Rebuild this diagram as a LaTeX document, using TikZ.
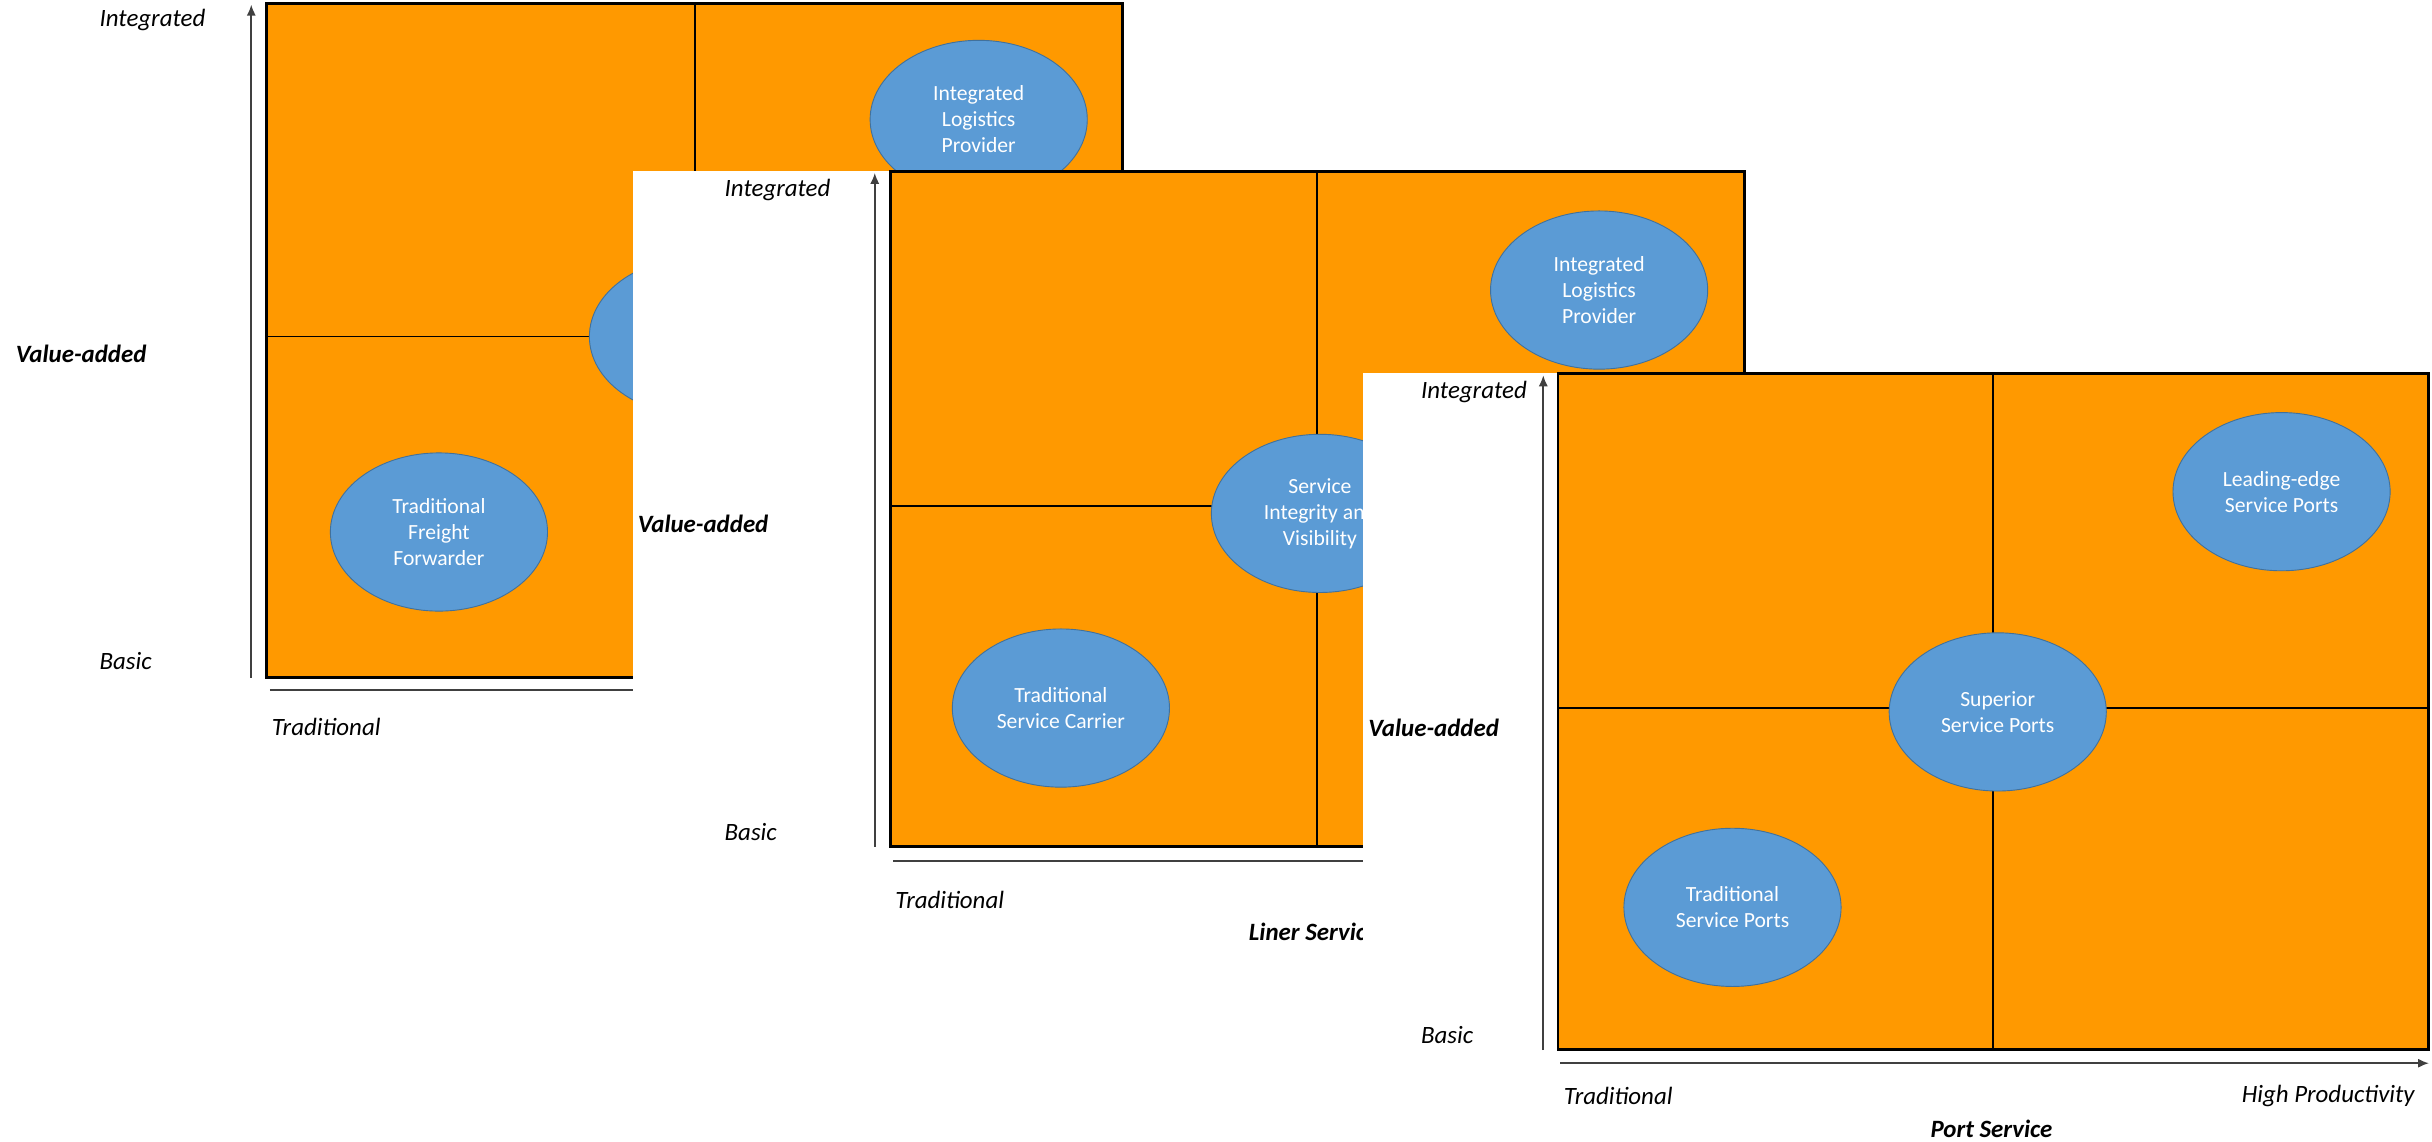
\documentclass[tikz,border=0pt]{standalone}
\usepackage{fontspec}
\setmainfont{Carlito}
\usetikzlibrary{shapes.geometric,arrows.meta}
\definecolor{quadorange}{HTML}{FF9900}
\definecolor{bubbleblue}{HTML}{5B9BD5}
\definecolor{bubbleedge}{HTML}{41719C}
\tikzset{
  quad/.style={fill=quadorange, draw=black, line width=1.6pt},
  divider/.style={draw=black, line width=1pt},
  axis/.style={draw=black!75, line width=0.9pt},
  tip/.style={-{Latex[length=6pt,width=5pt]}},
  bubble/.style={ellipse, fill=bubbleblue, draw=bubbleedge, line width=0.5pt,
    minimum width=4.2cm, minimum height=3.06cm, inner sep=0pt, text=white,
    align=center, font=\fontsize{11.9}{14.3}\selectfont},
  lbl/.style={anchor=west, inner sep=0pt, font=\fontsize{13.7}{16}\selectfont\itshape},
  ttl/.style={anchor=west, inner sep=0pt, font=\fontsize{13.7}{16}\selectfont\bfseries\itshape},
  cover/.style={fill=white}
}
\begin{document}
\begin{tikzpicture}[x=0.03cm, y=-0.03cm]
  \useasboundingbox (0,0) rectangle (1568,735.7);

  % freight forwarding
  \draw[quad] (172,2) rectangle (724,437);
  \draw[divider] (448,2) -- (448,437) (172,217) -- (724,217);
  \coordinate (yA0) at (162,437);
  \coordinate (yA1) at (162,3);
  \coordinate (xA0) at (174,445);
  \coordinate (xA1) at (724,445);
  \draw[axis,tip] (yA0) -- (yA1);
  \draw[axis,tip] (xA0) -- (xA1);
  \draw
    (283,343) node[bubble] (ffA){Traditional\\Freight\\Forwarder}
    (631,77) node[bubble] (ilpA){Integrated\\Logistics\\Provider}
    (450,217) node[bubble] (midA){};
  \draw
    (64,13) node[lbl] (topA){Integrated}
    (64,426) node[lbl] (botA){Basic}
    (10,228) node[ttl] (vaA){Value-added}
    (175,469) node[lbl] (tradA){Traditional};

  % liner service
  \fill[cover] (408,110.5) rectangle (1135,615);
  \draw[quad] (574,110.5) rectangle (1125,546);
  \draw[divider] (849,110.5) -- (849,546) (574,326) -- (1125,326);
  \coordinate (yB0) at (564,546);
  \coordinate (yB1) at (564,111.5);
  \coordinate (xB0) at (576,555);
  \coordinate (xB1) at (1125,555);
  \draw[axis,tip] (yB0) -- (yB1);
  \draw[axis,tip] (xB0) -- (xB1);
  \draw
    (1031,187) node[bubble] (ilpB){Integrated\\Logistics\\Provider}
    (851,331) node[bubble] (sivB){Service\\Integrity and\\Visibility}
    (684,456.5) node[bubble] (tscB){Traditional\\Service Carrier};
  \draw
    (467,122.5) node[lbl] (topB){Integrated}
    (467,536.5) node[lbl] (botB){Basic}
    (411,338) node[ttl] (vaB){Value-added}
    (577,580) node[lbl] (tradB){Traditional}
    (805,601) node[ttl] (ttlB){Liner Service};

  % port service
  \fill[cover] (879,240.5) rectangle (1568,735.7);
  \draw[quad] (1004.5,241) rectangle (1565.5,676.5);
  \draw[divider] (1285,241) -- (1285,676.5) (1004.5,456.5) -- (1565.5,456.5);
  \coordinate (yC0) at (995,677);
  \coordinate (yC1) at (995,242);
  \coordinate (xC0) at (1006,685.5);
  \coordinate (xC1) at (1566,685.5);
  \draw[axis,tip] (yC0) -- (yC1);
  \draw[axis,tip] (xC0) -- (xC1);
  \draw
    (1471,317) node[bubble] (lesp){Leading-edge\\Service Ports}
    (1288,459) node[bubble] (ssp){Superior\\Service Ports}
    (1117,585) node[bubble] (tsp){Traditional\\Service Ports};
  \draw
    (916,253) node[lbl] (topC){Integrated}
    (916,667) node[lbl] (botC){Basic}
    (882,469) node[ttl] (vaC){Value-added}
    (1008,706.5) node[lbl] (tradC){Traditional}
    (1557,706.5) node[lbl,anchor=east] (highC){High Productivity}
    (1284,728) node[ttl,anchor=center] (ttlC){Port Service};
\end{tikzpicture}
\end{document}
